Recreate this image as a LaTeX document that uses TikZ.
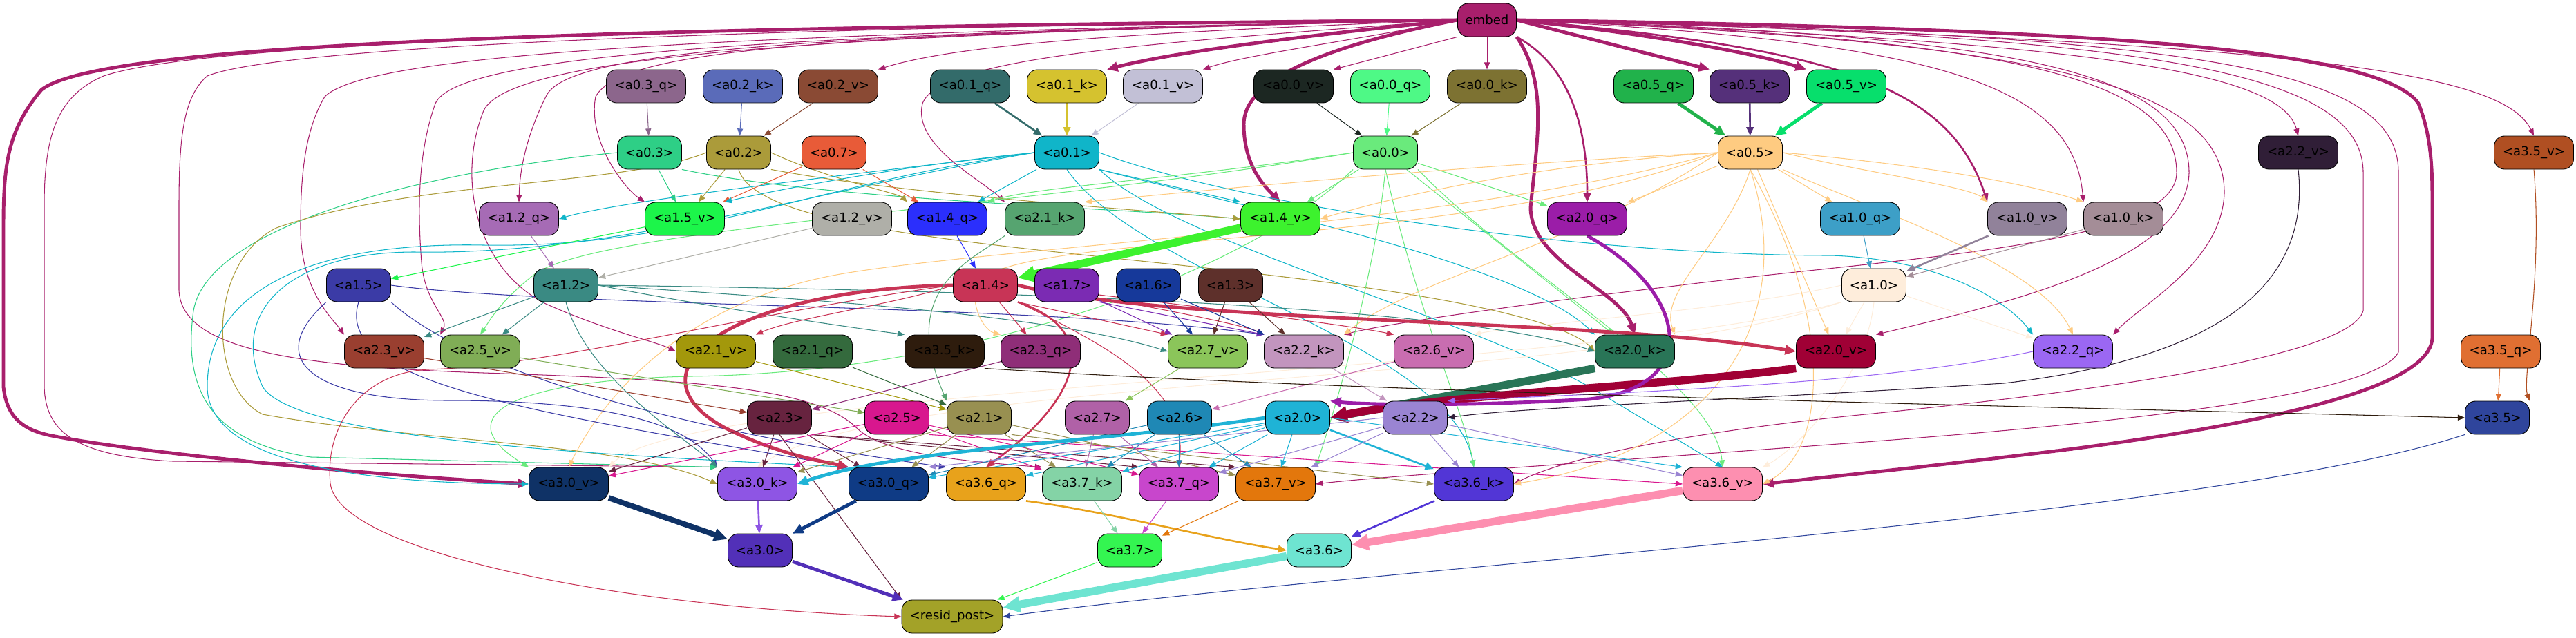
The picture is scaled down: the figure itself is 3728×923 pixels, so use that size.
\documentclass[tikz,border=0pt]{standalone}
\usepackage{fontspec}
\setmainfont{DejaVu Sans}
\usepackage{xcolor}
\definecolor{cembed}{HTML}{A81F6C}
\definecolor{c03q}{HTML}{8C668C}
\definecolor{c02k}{HTML}{5A6BB9}
\definecolor{c02v}{HTML}{8A4A34}
\definecolor{c01q}{HTML}{336B6A}
\definecolor{c01k}{HTML}{D5C22F}
\definecolor{c01v}{HTML}{C2C0D6}
\definecolor{c00v}{HTML}{1C2722}
\definecolor{c00q}{HTML}{4EF986}
\definecolor{c00k}{HTML}{7D7232}
\definecolor{c05q}{HTML}{21B24B}
\definecolor{c05k}{HTML}{55307A}
\definecolor{c05v}{HTML}{07DF6C}
\definecolor{c03}{HTML}{2ECF86}
\definecolor{c02}{HTML}{AB9B3A}
\definecolor{c07}{HTML}{E85B38}
\definecolor{c01}{HTML}{10B5C9}
\definecolor{c00}{HTML}{6AEA7C}
\definecolor{c05}{HTML}{FECB81}
\definecolor{c22v}{HTML}{301E37}
\definecolor{c35v}{HTML}{B04F22}
\definecolor{c12q}{HTML}{A66BB5}
\definecolor{c15v}{HTML}{1CF54A}
\definecolor{c12v}{HTML}{AFAFA8}
\definecolor{c14q}{HTML}{2B2FFC}
\definecolor{c21k}{HTML}{56A470}
\definecolor{c14v}{HTML}{3DF22E}
\definecolor{c20q}{HTML}{9B1DA8}
\definecolor{c10q}{HTML}{3D9FC7}
\definecolor{c10v}{HTML}{91829A}
\definecolor{c10k}{HTML}{A48D97}
\definecolor{c15}{HTML}{3B3BA6}
\definecolor{c12}{HTML}{3A8A83}
\definecolor{c14}{HTML}{C83456}
\definecolor{c17}{HTML}{7B2BB3}
\definecolor{c16}{HTML}{16399A}
\definecolor{c13}{HTML}{5E302B}
\definecolor{c10}{HTML}{FEEDDB}
\definecolor{c23v}{HTML}{9A3F30}
\definecolor{c25v}{HTML}{80AD56}
\definecolor{c21v}{HTML}{A3980B}
\definecolor{c21q}{HTML}{346A3D}
\definecolor{c35k}{HTML}{2E1C0D}
\definecolor{c23q}{HTML}{8F2E78}
\definecolor{c27v}{HTML}{8BC55A}
\definecolor{c22k}{HTML}{C295BE}
\definecolor{c26v}{HTML}{C96DB0}
\definecolor{c20k}{HTML}{297557}
\definecolor{c20v}{HTML}{A00035}
\definecolor{c22q}{HTML}{9B67F3}
\definecolor{c35q}{HTML}{E06F32}
\definecolor{c23}{HTML}{67233F}
\definecolor{c25}{HTML}{D8178E}
\definecolor{c21}{HTML}{989051}
\definecolor{c27}{HTML}{B061A7}
\definecolor{c26}{HTML}{1F88B5}
\definecolor{c20}{HTML}{1FB3D6}
\definecolor{c22}{HTML}{9A84D2}
\definecolor{c35}{HTML}{2F459C}
\definecolor{c30v}{HTML}{0F3266}
\definecolor{c30k}{HTML}{8E55E4}
\definecolor{c30q}{HTML}{0F3B85}
\definecolor{c36q}{HTML}{E8A21B}
\definecolor{c37k}{HTML}{84D3A6}
\definecolor{c37q}{HTML}{C846CC}
\definecolor{c37v}{HTML}{E3770C}
\definecolor{c36k}{HTML}{5236D6}
\definecolor{c36v}{HTML}{FD8FB0}
\definecolor{c30}{HTML}{5230B8}
\definecolor{c37}{HTML}{34F551}
\definecolor{c36}{HTML}{6EE4D1}
\definecolor{cresid}{HTML}{A3A228}
\usepackage{tikz}
\usetikzlibrary{arrows.meta,backgrounds}

\begin{document}
\begin{tikzpicture}[
  x=0.02cm, y=-0.02cm,
  font=\fontsize{10.3}{12}\selectfont,
  blk/.style={
    rectangle, rounded corners=0.3cm,
    minimum width=1.86cm, minimum height=0.96cm,
    inner sep=1pt, align=center,
    draw=black, fill=#1,
    line width=0.5pt
  },
  blkw/.style={blk=#1, minimum width=2.3cm},
  ln/.style={draw=#1, line width=0.6pt, -{Triangle[length=5pt 1.4, width=3.8pt 1.4]}},
  lnm/.style={ln=#1, line width=1.5pt},
  lnb/.style={ln=#1, line width=2.8pt},
  lnx/.style={ln=#1, line width=4.5pt},
  lnxx/.style={ln=#1, line width=6.5pt}
]
\useasboundingbox (0,0) rectangle (3728,923);

% top
\node[blk=cembed, minimum width=1.7cm] (embed) at (2152,29) {embed};

% row 1
\node[blkw=c03q] (a03q) at (935,125) {<a0.3\_q>};
\node[blkw=c02k] (a02k) at (1075,125) {<a0.2\_k>};
\node[blkw=c02v] (a02v) at (1213,125) {<a0.2\_v>};
\node[blkw=c01q] (a01q) at (1404,125) {<a0.1\_q>};
\node[blkw=c01k] (a01k) at (1544,125) {<a0.1\_k>};
\node[blkw=c01v] (a01v) at (1683,125) {<a0.1\_v>};
\node[blkw=c00v] (a00v) at (1872,125) {<a0.0\_v>};
\node[blkw=c00q] (a00q) at (2012,125) {<a0.0\_q>};
\node[blkw=c00k] (a00k) at (2152,125) {<a0.0\_k>};
\node[blkw=c05q] (a05q) at (2393,125) {<a0.5\_q>};
\node[blkw=c05k] (a05k) at (2532,125) {<a0.5\_k>};
\node[blkw=c05v] (a05v) at (2672,125) {<a0.5\_v>};

% row 2
\node[blk=c03] (a03) at (940,221) {<a0.3>};
\node[blk=c02] (a02) at (1069,221) {<a0.2>};
\node[blk=c07] (a07) at (1207,221) {<a0.7>};
\node[blk=c01] (a01) at (1544,221) {<a0.1>};
\node[blk=c00] (a00) at (2005,221) {<a0.0>};
\node[blk=c05] (a05) at (2533,221) {<a0.5>};
\node[blkw=c22v] (a22v) at (3326,221) {<a2.2\_v>};
\node[blkw=c35v] (a35v) at (3667,221) {<a3.5\_v>};

% row 3
\node[blkw=c12q] (a12q) at (751,317) {<a1.2\_q>};
\node[blkw=c15v] (a15v) at (991,317) {<a1.5\_v>};
\node[blkw=c12v] (a12v) at (1233,317) {<a1.2\_v>};
\node[blkw=c14q] (a14q) at (1371,317) {<a1.4\_q>};
\node[blkw=c21k] (a21k) at (1512,317) {<a2.1\_k>};
\node[blkw=c14v] (a14v) at (1853,317) {<a1.4\_v>};
\node[blkw=c20q] (a20q) at (2297,317) {<a2.0\_q>};
\node[blkw=c10q] (a10q) at (2692,317) {<a1.0\_q>};
\node[blkw=c10v] (a10v) at (2934,317) {<a1.0\_v>};
\node[blkw=c10k] (a10k) at (3073,317) {<a1.0\_k>};

% row 4
\node[blk=c15] (a15) at (519,413) {<a1.5>};
\node[blk=c12] (a12) at (819,413) {<a1.2>};
\node[blk=c14] (a14) at (1426,413) {<a1.4>};
\node[blk=c17] (a17) at (1544,413) {<a1.7>};
\node[blk=c16] (a16) at (1662,413) {<a1.6>};
\node[blk=c13] (a13) at (1781,413) {<a1.3>};
\node[blk=c10] (a10) at (2712,413) {<a1.0>};

% row 5
\node[blkw=c23v] (a23v) at (556,509) {<a2.3\_v>};
\node[blkw=c25v] (a25v) at (695,509) {<a2.5\_v>};
\node[blkw=c21v] (a21v) at (1036,509) {<a2.1\_v>};
\node[blkw=c21q] (a21q) at (1176,509) {<a2.1\_q>};
\node[blkw=c35k] (a35k) at (1367,509) {<a3.5\_k>};
\node[blkw=c23q] (a23q) at (1506,509) {<a2.3\_q>};
\node[blkw=c27v] (a27v) at (1748,509) {<a2.7\_v>};
\node[blkw=c22k] (a22k) at (1887,509) {<a2.2\_k>};
\node[blkw=c26v] (a26v) at (2075,509) {<a2.6\_v>};
\node[blkw=c20k] (a20k) at (2366,509) {<a2.0\_k>};
\node[blkw=c20v] (a20v) at (2657,509) {<a2.0\_v>};
\node[blkw=c22q] (a22q) at (3000,509) {<a2.2\_q>};
\node[blkw=c35q] (a35q) at (3619,509) {<a3.5\_q>};

% row 6
\node[blk=c23] (a23) at (1128,605) {<a2.3>};
\node[blk=c25] (a25) at (1298,605) {<a2.5>};
\node[blk=c21] (a21) at (1417,605) {<a2.1>};
\node[blk=c27] (a27) at (1588,605) {<a2.7>};
\node[blk=c26] (a26) at (1707,605) {<a2.6>};
\node[blk=c20] (a20) at (1878,605) {<a2.0>};
\node[blk=c22] (a22) at (2048,605) {<a2.2>};
\node[blk=c35] (a35) at (3614,605) {<a3.5>};

% row 7
\node[blkw=c30v] (a30v) at (823,701) {<a3.0\_v>};
\node[blkw=c30k] (a30k) at (1096,701) {<a3.0\_k>};
\node[blkw=c30q] (a30q) at (1286,701) {<a3.0\_q>};
\node[blkw=c36q] (a36q) at (1427,701) {<a3.6\_q>};
\node[blkw=c37k] (a37k) at (1566,701) {<a3.7\_k>};
\node[blkw=c37q] (a37q) at (1706,701) {<a3.7\_q>};
\node[blkw=c37v] (a37v) at (1846,701) {<a3.7\_v>};
\node[blkw=c36k] (a36k) at (2133,701) {<a3.6\_k>};
\node[blkw=c36v] (a36v) at (2493,701) {<a3.6\_v>};

% row 8 and output
\node[blk=c30] (a30) at (1100,797) {<a3.0>};
\node[blk=c37] (a37) at (1635,797) {<a3.7>};
\node[blk=c36] (a36) at (1909,797) {<a3.6>};
\node[blk=cresid, minimum width=2.92cm] (resid) at (1378,893) {<resid\_post>};

\begin{scope}[on background layer]
% embed, heavy
\draw[lnb=cembed] (embed.west) .. controls (900,40) and (150,60) .. (60,130) .. controls (10,190) and (5,240) .. (5,330) -- (5,560) .. controls (10,610) and (40,625) .. (80,632) .. controls (200,655) and (500,685) .. (a30v.west);
\draw[lnb=cembed] (embed.east) .. controls (2900,40) and (3440,60) .. (3500,150) .. controls (3520,200) and (3520,250) .. (3520,300) -- (3520,490) .. controls (3515,560) and (3300,610) .. (3000,650) .. controls (2800,675) and (2650,690) .. (a36v.east);
\draw[lnb=cembed] (embed.west) .. controls (1900,70) and (1800,120) .. (1800,180) .. controls (1800,240) and (1830,270) .. (a14v.north);
\draw[lnb=cembed] (embed.south east) .. controls (2240,120) and (2225,200) .. (2215,300) .. controls (2215,380) and (2345,420) .. (a20k.north);
\draw[lnm=cembed] (embed.south east) .. controls (2280,100) and (2297,200) .. (a20q.north);
\draw[lnb=cembed] (embed.west) .. controls (1900,50) and (1700,75) .. (a01k.north east);
\draw[lnb=cembed] (embed.east) -- (a05k.north west);
\draw[lnb=cembed] (embed.east) .. controls (2400,50) and (2550,80) .. (a05v.north west);
\draw[lnm=cembed] (embed.east) .. controls (2650,70) and (2820,120) .. (a10v.north west);

% embed, thin
\draw[ln=cembed] (embed.west) .. controls (1700,45) and (1400,60) .. (a02v.north east);
\draw[ln=cembed] (embed.west) .. controls (1950,60) and (1800,80) .. (a01v.north east);
\draw[ln=cembed] (embed.south west) -- (a00v.north east);
\draw[ln=cembed] (embed) -- (a00k);
\draw[ln=cembed] (embed.east) .. controls (2800,60) and (3000,120) .. (a10k.north west);
\draw[ln=cembed] (embed.east) .. controls (3000,60) and (3300,100) .. (a22v.north);
\draw[ln=cembed] (embed.east) .. controls (3300,60) and (3620,100) .. (a35v.north);
\draw[ln=cembed] (embed.west) .. controls (1700,60) and (1360,80) .. (1335,150) .. controls (1320,210) and (1420,260) .. (a21k.north west);
\draw[ln=cembed] (embed.west) .. controls (1200,50) and (900,70) .. (862,140) .. controls (850,200) and (900,270) .. (a15v.north west);
\draw[ln=cembed] (embed.west) .. controls (1200,50) and (820,70) .. (790,140) .. controls (760,200) and (752,250) .. (a12q.north);
\draw[ln=cembed] (embed.west) .. controls (1200,50) and (740,80) .. (700,160) .. controls (660,260) and (690,390) .. (790,440) .. controls (880,480) and (950,495) .. (a21v.west);
\draw[ln=cembed] (embed.west) .. controls (1100,50) and (660,80) .. (630,150) .. controls (605,220) and (604,300) .. (610,380) .. controls (615,440) and (650,460) .. (a25v.north west);
\draw[ln=cembed] (embed.west) .. controls (1000,50) and (530,80) .. (470,140) .. controls (440,190) and (435,260) .. (435,330) .. controls (435,420) and (480,460) .. (a23v.north west);
\draw[ln=cembed] (embed.west) .. controls (1000,40) and (400,70) .. (300,110) .. controls (265,140) and (259,200) .. (259,300) -- (259,420) .. controls (262,500) and (400,530) .. (700,540) .. controls (1000,550) and (1180,560) .. (1240,620) .. controls (1280,660) and (1420,670) .. (a37k.north west);
\draw[ln=cembed] (embed.west) .. controls (1000,40) and (300,60) .. (150,110) .. controls (80,140) and (64,200) .. (64,300) -- (64,560) .. controls (66,620) and (100,660) .. (250,668) -- (a30k.north west);
\draw[ln=cembed] (embed.east) .. controls (2900,50) and (3168,100) .. (3168,250) .. controls (3165,380) and (2900,440) .. (a20v.north east);
\draw[ln=cembed] (embed.east) .. controls (2950,60) and (3220,120) .. (3219,280) .. controls (3215,380) and (3100,440) .. (a22q.north east);
\draw[ln=cembed] (embed.east) .. controls (2900,55) and (3150,110) .. (3150,250) .. controls (3150,350) and (2800,370) .. (2500,405) .. controls (2200,440) and (2000,470) .. (a22k.north east);
\draw[ln=cembed] (embed.east) .. controls (3100,50) and (3420,100) .. (3420,250) -- (3420,450) .. controls (3400,520) and (3000,570) .. (2700,600) .. controls (2400,630) and (2250,670) .. (a36k.east);
\draw[ln=cembed] (embed.east) .. controls (3200,50) and (3471,100) .. (3471,250) -- (3471,510) .. controls (3440,570) and (3100,610) .. (2700,640) .. controls (2300,670) and (2000,690) .. (a37v.east);

% layer 0
\draw[ln=c03q] (a03q) -- (a03);
\draw[ln=c02k] (a02k) -- (a02);
\draw[ln=c02v] (a02v) -- (a02);
\draw[lnm=c01q] (a01q) -- (a01);
\draw[lnm=c01k] (a01k) -- (a01);
\draw[ln=c01v] (a01v) -- (a01);
\draw[ln=c00v] (a00v) -- (a00);
\draw[ln=c00q] (a00q) -- (a00);
\draw[ln=c00k] (a00k) -- (a00);
\draw[lnb=c05q] (a05q) -- (a05);
\draw[lnm=c05k] (a05k) -- (a05);
\draw[lnb=c05v] (a05v) -- (a05);

\draw[ln=c03] (a03) -- (a15v);
\draw[ln=c03] (a03.west) .. controls (600,250) and (300,330) .. (280,450) .. controls (265,560) and (300,640) .. (450,662) -- (a30k.north west);
\draw[ln=c03] (a03.south east) .. controls (1200,290) and (1600,300) .. (a14v.west);
\draw[ln=c02] (a02) -- (a15v);
\draw[ln=c02] (a02.east) .. controls (1200,260) and (1300,280) .. (a14q.north west);
\draw[ln=c02] (a02.south east) .. controls (1300,280) and (1600,300) .. (a14v.west);
\draw[ln=c02] (a02.south) .. controls (1100,350) and (1600,360) .. (2000,420) .. controls (2200,450) and (2280,480) .. (a20k.west);
\draw[ln=c02] (a02.west) .. controls (900,270) and (600,260) .. (400,330) .. controls (300,380) and (300,560) .. (380,600) .. controls (600,640) and (900,640) .. (a30k.west);
\draw[ln=c07] (a07) -- (a15v);
\draw[ln=c07] (a07) -- (a14q);

\draw[ln=c01] (a01.west) .. controls (1250,250) and (900,290) .. (a12q.east);
\draw[ln=c01] (a01.west) .. controls (1300,240) and (1100,280) .. (a15v.north east);
\draw[ln=c01] (a01) -- (a14q);
\draw[ln=c01] (a01.south east) -- (a14v.north west);
\draw[ln=c01] (a01.west) .. controls (1200,260) and (1000,360) .. (700,355) .. controls (450,350) and (300,420) .. (300,560) .. controls (300,650) and (450,700) .. (a30v.west);
\draw[ln=c01] (a01.west) .. controls (1200,270) and (900,370) .. (600,365) .. controls (420,365) and (330,450) .. (380,560) .. controls (430,640) and (900,660) .. (a30q.north west);
\draw[ln=c01] (a01.east) .. controls (1800,300) and (2300,370) .. (2650,370) .. controls (2800,375) and (2900,430) .. (a22q.north west);
\draw[ln=c01] (a01.south east) .. controls (1800,300) and (2200,380) .. (a20k.north west);
\draw[ln=c01] (a01.south east) .. controls (1700,350) and (2100,450) .. (2300,560) .. controls (2400,620) and (2450,650) .. (a36v.north);
\draw[ln=c01] (a01.south) .. controls (1650,400) and (2100,500) .. (a36k.north);

\draw[ln=c00] (a00) -- (a14v);
\draw[ln=c00] (a00.west) .. controls (1700,260) and (1500,270) .. (a14q.north east);
\draw[ln=c00] (a00) -- (a20q);
\draw[ln=c00] (a00) -- (a20k);
\draw[ln=c00] (a00.south west) .. controls (1800,400) and (1400,540) .. (1000,545) .. controls (750,550) and (640,600) .. (a30v.north west);
\draw[ln=c00] (a00.west) .. controls (1500,300) and (850,330) .. (770,400) .. controls (720,440) and (705,470) .. (a25v.north);
\draw[ln=c00] (a00.south) .. controls (1990,400) and (1930,600) .. (a37v.north east);
\draw[ln=c00] (a00.south east) .. controls (2200,400) and (2480,550) .. (a36v.north);
\draw[ln=c00] (a00.south) .. controls (2050,450) and (2120,600) .. (a36k.north);

\draw[ln=c05] (a05) -- (a10q);
\draw[ln=c05] (a05.east) .. controls (2700,250) and (2850,270) .. (a10v.north west);
\draw[ln=c05] (a05.east) .. controls (2800,240) and (2950,270) .. (a10k.north west);
\draw[ln=c05] (a05) -- (a20q);
\draw[ln=c05] (a05.west) .. controls (2200,240) and (2000,290) .. (a14v.east);
\draw[ln=c05] (a05.west) .. controls (2100,240) and (1700,280) .. (a21k.north east);
\draw[ln=c05] (a05.south) .. controls (2500,350) and (2400,420) .. (a20k.north east);
\draw[ln=c05] (a05) -- (a20v);
\draw[ln=c05] (a05.south east) .. controls (2700,300) and (2950,380) .. (a22q.north);
\draw[ln=c05] (a05.south) .. controls (2600,450) and (2500,650) .. (a36k.east);
\draw[ln=c05] (a05.south) .. controls (2650,450) and (2650,650) .. (a36v.east);
\draw[ln=c05] (a05.west) .. controls (2100,330) and (1400,360) .. (1200,400) .. controls (1000,440) and (880,560) .. (a30v.north);
\draw[ln=c05] (a05.west) .. controls (2300,350) and (2050,400) .. (a22k.north east);
\draw[ln=c05] (a05.west) .. controls (2100,370) and (1420,330) .. (1410,420) .. controls (1410,460) and (1430,480) .. (a23q.north west);

% layer 1
\draw[ln=c12q] (a12q) -- (a12);
\draw[ln=c12v] (a12v) -- (a12);
\draw[ln=c15v] (a15v) -- (a15);
\draw[ln=c14q] (a14q) -- (a14);
\draw[lnxx=c14v] (a14v) -- (a14);
\draw[ln=c10q] (a10q) -- (a10);
\draw[lnm=c10v] (a10v) -- (a10);
\draw[ln=c10k] (a10k) -- (a10);

\draw[ln=c10] (a10) -- (a20v);
\draw[ln=c10] (a10) -- (a22q);
\draw[ln=c10] (a10.west) .. controls (2500,450) and (2200,470) .. (a26v.north east);
\draw[ln=c10] (a10.south west) .. controls (2300,560) and (1300,540) .. (a30k.north);
\draw[ln=c10] (a10.south west) .. controls (2300,540) and (1000,560) .. (a30v.north east);
\draw[ln=c10] (a10.south) .. controls (2700,550) and (2600,650) .. (a36v.north east);

\draw[ln=c15] (a15.east) .. controls (800,445) and (1500,440) .. (a22k.north west);
\draw[ln=c15] (a15.south west) .. controls (380,520) and (450,580) .. (650,580) .. controls (900,580) and (1000,620) .. (a30k.north west);
\draw[ln=c15] (a15.south) .. controls (480,560) and (800,600) .. (a30q.north west);
\draw[ln=c15] (a15.south east) .. controls (700,560) and (1100,640) .. (a36q.north west);

\draw[ln=c12] (a12) -- (a23v);
\draw[ln=c12] (a12) -- (a25v);
\draw[ln=c12] (a12.east) .. controls (1000,440) and (1200,470) .. (a35k.north west);
\draw[ln=c12] (a12.east) .. controls (1100,430) and (1500,450) .. (a27v.west);
\draw[ln=c12] (a12.south) .. controls (850,550) and (1000,640) .. (a30k.north west);
\draw[ln=c12] (a12.east) .. controls (1400,420) and (2100,440) .. (a20k.west);

\draw[lnb=c14] (a14.east) .. controls (1700,470) and (2300,460) .. (a20v.west);
\draw[lnb=c14] (a14.west) .. controls (1050,420) and (900,540) .. (1050,620) .. controls (1130,660) and (1200,670) .. (a30q.north west);
\draw[lnm=c14] (a14.south east) .. controls (1600,480) and (1560,580) .. (a36q.north);
\draw[ln=c14] (a14) -- (a23q);
\draw[ln=c14] (a14.south east) -- (a27v.north west);
\draw[ln=c14] (a14.east) .. controls (1700,440) and (1950,470) .. (a26v.north west);
\draw[ln=c14] (a14.west) .. controls (1300,440) and (1150,460) .. (a21v.north east);
\draw[ln=c14] (a14.south east) .. controls (1600,500) and (1720,560) .. (a37q.north);
\draw[ln=c14] (a14.east) .. controls (1600,430) and (1800,470) .. (a22k.north west);
\draw[ln=c14] (a14.west) .. controls (1100,450) and (800,530) .. (620,535) .. controls (520,540) and (470,620) .. (478,700) .. controls (490,800) and (900,880) .. (resid.west);

\draw[ln=c17] (a17) -- (a27v);
\draw[ln=c17] (a17.south east) -- (a22k.north west);
\draw[ln=c16] (a16) -- (a27v);
\draw[ln=c16] (a16) -- (a22k);
\draw[ln=c13] (a13) -- (a27v);
\draw[ln=c13] (a13) -- (a22k);

% layer 2
\draw[ln=c23v] (a23v) -- (a23);
\draw[ln=c25v] (a25v) -- (a25);
\draw[ln=c21v] (a21v) -- (a21);
\draw[ln=c21q] (a21q) -- (a21);
\draw[ln=c21k] (a21k.south west) .. controls (1400,380) and (1300,420) .. (a21.north west);
\draw[ln=c23q] (a23q) -- (a23);
\draw[ln=c27v] (a27v) -- (a27);
\draw[ln=c26v] (a26v) -- (a26);
\draw[ln=c22k] (a22k) -- (a22);
\draw[lnxx=c20k] (a20k.south west) -- (a20.east);
\draw[lnxx=c20v] (a20v.south west) .. controls (2400,560) and (2100,570) .. (a20.east);
\draw[lnb=c20q] (a20q.south) .. controls (2440,420) and (2470,560) .. (2300,578) .. controls (2100,590) and (1960,585) .. (a20.north east);
\draw[ln=c22q] (a22q.west) .. controls (2700,560) and (2300,570) .. (a22.north east);
\draw[ln=c22v] (a22v.south) .. controls (3345,420) and (3200,520) .. (2900,555) .. controls (2500,580) and (2200,590) .. (a22.east);
\draw[ln=c35k] (a35k.south east) .. controls (2000,570) and (3000,590) .. (a35.west);
\draw[ln=c35q] (a35q) -- (a35);
\draw[ln=c35v] (a35v.south) .. controls (3680,400) and (3650,550) .. (a35.north east);

\draw[ln=c23] (a23) -- (a30v);
\draw[ln=c23] (a23) -- (a30k);
\draw[ln=c23] (a23) -- (a30q);
\draw[ln=c23] (a23.south) -- (resid.north west);
\draw[ln=c23] (a23.south east) -- (a37q.north west);
\draw[ln=c23] (a23.south east) -- (a37v.north west);
\draw[ln=c25] (a25) -- (a30v);
\draw[ln=c25] (a25) -- (a30k);
\draw[ln=c25] (a25) -- (a37k);
\draw[ln=c25] (a25) -- (a37q);
\draw[ln=c25] (a25.south east) -- (a36v.west);
\draw[ln=c21] (a21) -- (a30k);
\draw[ln=c21] (a21) -- (a30q);
\draw[ln=c21] (a21) -- (a37k);
\draw[ln=c21] (a21) -- (a37v);
\draw[ln=c21] (a21.south east) -- (a36k.west);
\draw[ln=c27] (a27) -- (a37k);
\draw[ln=c27] (a27) -- (a37q);
\draw[ln=c26] (a26) -- (a37q);
\draw[ln=c26] (a26) -- (a37v);
\draw[ln=c26] (a26) -- (a37k);
\draw[ln=c26] (a26) -- (a30q);
\draw[lnb=c20] (a20.west) .. controls (1600,640) and (1300,650) .. (a30k.east);
\draw[lnm=c20] (a20) -- (a36k);
\draw[ln=c20] (a20) -- (a30q);
\draw[ln=c20] (a20) -- (a36q);
\draw[ln=c20] (a20) -- (a37k);
\draw[ln=c20] (a20) -- (a37q);
\draw[ln=c20] (a20) -- (a37v);
\draw[ln=c20] (a20.east) -- (a36v.north west);
\draw[ln=c22] (a22) -- (a37v);
\draw[ln=c22] (a22) -- (a37q);
\draw[ln=c22] (a22) -- (a36k);
\draw[ln=c22] (a22) -- (a36v);
\draw[ln=c22] (a22.west) -- (a30q.north east);

% layer 3
\draw[lnx=c30v] (a30v) -- (a30);
\draw[lnm=c30k] (a30k) -- (a30);
\draw[lnb=c30q] (a30q) -- (a30);
\draw[lnm=c36q] (a36q.south east) .. controls (1600,740) and (1750,780) .. (a36.west);
\draw[lnm=c36k] (a36k) -- (a36);
\draw[lnxx=c36v] (a36v) -- (a36);
\draw[ln=c37k] (a37k) -- (a37);
\draw[ln=c37q] (a37q) -- (a37);
\draw[ln=c37v] (a37v) -- (a37);
\draw[lnb=c30] (a30) -- (resid);
\draw[ln=c37] (a37) -- (resid);
\draw[lnxx=c36] (a36) -- (resid);
\draw[ln=c35] (a35.south west) .. controls (3200,750) and (2000,820) .. (resid.east);
\end{scope}
\end{tikzpicture}
\end{document}
